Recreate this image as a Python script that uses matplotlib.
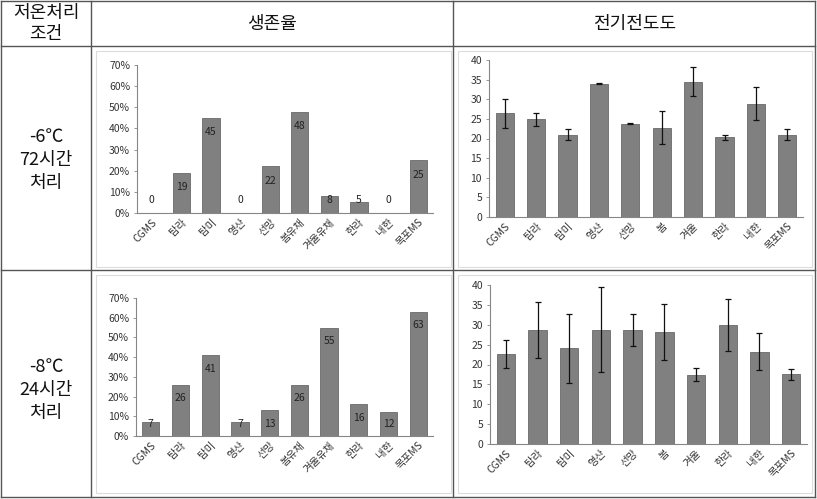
import matplotlib
matplotlib.use("Agg")
import matplotlib.pyplot as plt
from matplotlib.lines import Line2D
from matplotlib.patches import Rectangle
from matplotlib.ticker import FuncFormatter
import numpy as np

plt.rcParams['font.family'] = ['Noto Sans CJK KR', 'DejaVu Sans']

# ---------------- data ----------------
header_cond = ["저온처리", "조건"]
header_surv = "생존율"
header_ec = "전기전도도"
cond_labels = [["-6℃", "72시간", "처리"], ["-8℃", "24시간", "처리"]]

surv_cats = ["CGMS", "탐라", "탐미", "영산", "선망", "봄유채", "겨울유채", "한라", "내한", "목포MS"]
ec_cats = ["CGMS", "탐라", "탐미", "영산", "선망", "봄", "겨울", "한라", "내한", "목포MS"]

surv_6 = [0, 19, 45, 0, 22, 48, 8, 5, 0, 25]
surv_8 = [7, 26, 41, 7, 13, 26, 55, 16, 12, 63]

ec_6 = [26.4, 24.9, 20.9, 34.0, 23.8, 22.8, 34.5, 20.3, 28.9, 20.9]
ec_6_err = [3.6, 1.7, 1.4, 0.1, 0.1, 4.3, 3.6, 0.7, 4.2, 1.4]
ec_8 = [22.6, 28.7, 24.1, 28.7, 28.7, 28.1, 17.4, 29.9, 23.2, 17.5]
ec_8_err = [3.6, 7.0, 8.7, 10.7, 4.0, 7.0, 1.6, 6.5, 4.6, 1.3]

surv_ticks = [0, 10, 20, 30, 40, 50, 60, 70]
ec_ticks = [0, 5, 10, 15, 20, 25, 30, 35, 40]

# ---------------- figure ----------------
W, H = 817, 499
fig = plt.figure(figsize=(W / 100, H / 100), dpi=100)
fig.patch.set_facecolor("white")

def px_axes(l, t, r, b):
    return fig.add_axes([l / W, 1 - b / H, (r - l) / W, (b - t) / H])

def fline(x0, y0, x1, y1, color="#555555", lw=1.0):
    fig.add_artist(Line2D([x0 / W, x1 / W], [1 - y0 / H, 1 - y1 / H],
                          transform=fig.transFigure, color=color, lw=lw))

def frect(l, t, r, b, color="#dcdcdc"):
    fig.add_artist(Rectangle((l / W, 1 - b / H), (r - l) / W, (b - t) / H,
                             transform=fig.transFigure, fill=False,
                             edgecolor=color, lw=0.8))

def ftext(x, y, s, size):
    fig.text(x / W, 1 - y / H, s, ha="center", va="center",
             fontsize=size, color="#111111")

# chart-area frames
frect(96, 51, 451, 267)
frect(458, 51, 812, 267)
frect(96, 275, 451, 493)
frect(458, 275, 812, 493)

# table lines
fline(1, 1, 815, 1)
fline(1, 497, 815, 497)
fline(1, 1, 1, 497)
fline(815, 1, 815, 497)
fline(91, 1, 91, 497)
fline(453, 1, 453, 497)
fline(1, 46, 815, 46)
fline(1, 270, 815, 270)

# header texts
ftext(46, 13, header_cond[0], 13)
ftext(46, 34, header_cond[1], 13)
ftext(272, 24, header_surv, 13)
ftext(635, 24, header_ec, 13)
for (y0, lines) in zip([137, 367], cond_labels):
    for i, s in enumerate(lines):
        ftext(46, y0 + 23 * i, s, 13)

BAR = "#808080"
EDGE = "#6a6a6a"
AX = "#868686"
TXT = "#333333"

def style(ax):
    for s in ["top", "right"]:
        ax.spines[s].set_visible(False)
    for s in ["left", "bottom"]:
        ax.spines[s].set_color(AX)
        ax.spines[s].set_linewidth(0.8)
    ax.tick_params(axis="y", labelsize=7.5, colors=AX, labelcolor=TXT, length=2, width=0.6, pad=3)
    ax.tick_params(axis="x", labelsize=7.5, colors=AX, labelcolor=TXT, length=0, pad=3)
    ax.set_facecolor("none")

def surv_panel(ax, vals):
    x = np.arange(len(surv_cats))
    ax.bar(x, vals, width=0.58, color=BAR, edgecolor=EDGE, linewidth=0.6)
    for xi, v in zip(x, vals):
        ax.text(xi, max(v - 6.8, 6.2), f"{v}", ha="center", va="center",
                fontsize=7.5, color="#222222")
    ax.set_xlim(-0.5, len(surv_cats) - 0.5)
    ax.set_ylim(0, 70)
    ax.set_yticks(surv_ticks)
    ax.yaxis.set_major_formatter(FuncFormatter(lambda v, p: f"{int(v)}%"))
    ax.set_xticks(x)
    ax.set_xticklabels(surv_cats, rotation=45, ha="right", rotation_mode="anchor")
    style(ax)

def ec_panel(ax, vals, errs):
    x = np.arange(len(ec_cats))
    ax.bar(x, vals, width=0.58, color=BAR, edgecolor=EDGE, linewidth=0.6)
    ax.errorbar(x, vals, yerr=errs, fmt="none", ecolor="#111111",
                elinewidth=0.9, capsize=2.5, capthick=0.9)
    ax.set_xlim(-0.5, len(ec_cats) - 0.5)
    ax.set_ylim(0, 40)
    ax.set_yticks(ec_ticks)
    ax.set_xticks(x)
    ax.set_xticklabels(ec_cats, rotation=45, ha="right", rotation_mode="anchor")
    style(ax)

ax1 = px_axes(137, 65, 433, 213)
surv_panel(ax1, surv_6)
ax2 = px_axes(489, 60, 803, 217)
ec_panel(ax2, ec_6, ec_6_err)
ax3 = px_axes(136, 298, 433, 436)
surv_panel(ax3, surv_8)
ax4 = px_axes(490, 285, 807, 444)
ec_panel(ax4, ec_8, ec_8_err)

fig.savefig("out.png", dpi=100, facecolor="white")
